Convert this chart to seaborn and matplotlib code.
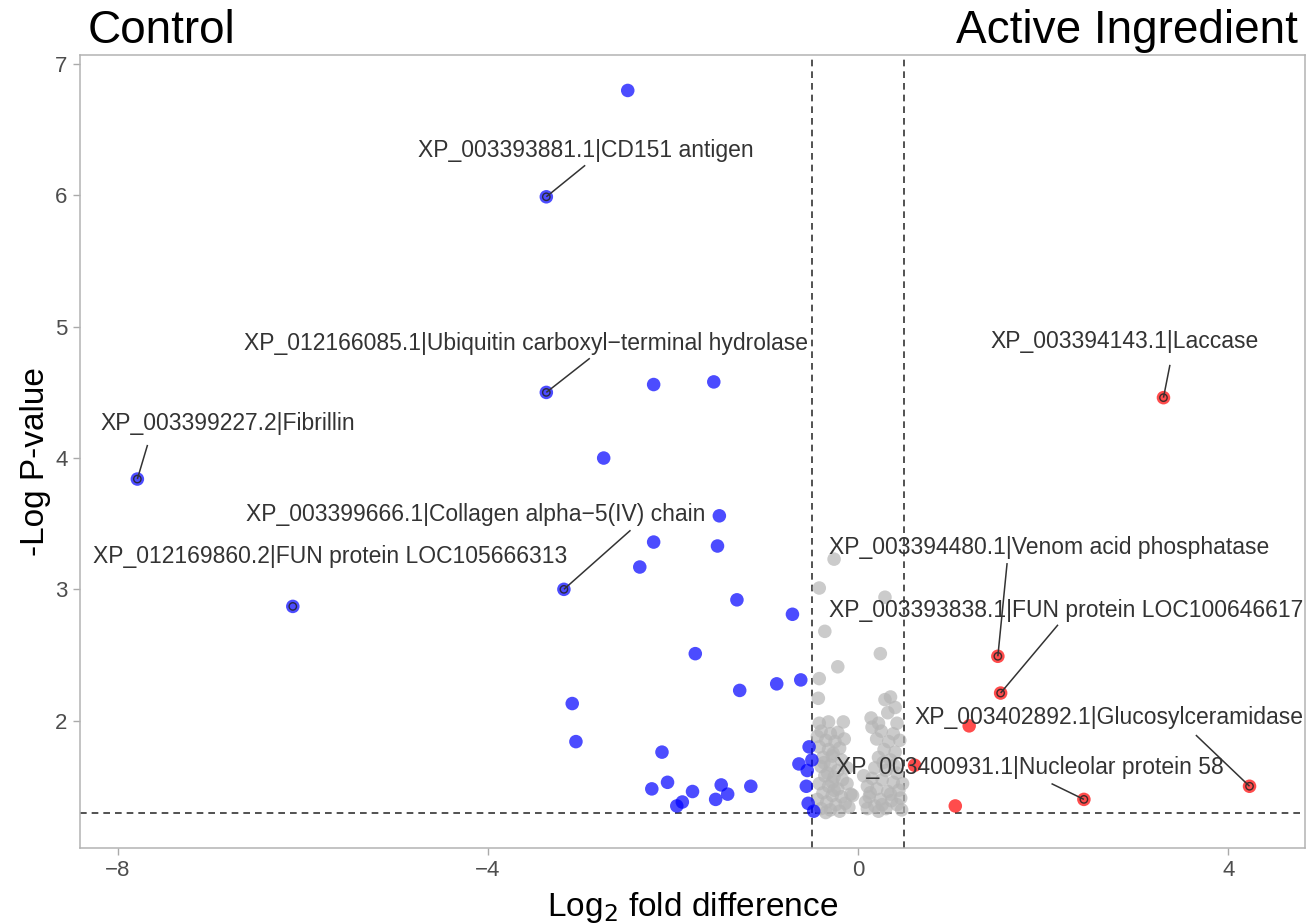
import matplotlib
matplotlib.use("Agg")
import matplotlib.pyplot as plt
import seaborn as sns
import pandas as pd

# ---- data ----
down_x = [-2.49, -3.37, -3.37, -2.21, -1.56, -7.79, -2.75, -1.50, -2.21, -1.52,
          -2.36, -3.18, -6.11, -1.31, -0.71, -1.76, -0.62, -0.88, -1.28, -3.09,
          -3.05, -2.12, -0.53, -0.50, -0.64, -0.55, -2.06, -2.23, -1.48, -1.16,
          -1.79, -1.41, -0.56, -1.54, -1.90, -1.96, -0.54, -0.48]
down_y = [6.80, 5.99, 4.50, 4.56, 4.58, 3.84, 4.00, 3.56, 3.36, 3.33,
          3.17, 3.00, 2.87, 2.92, 2.81, 2.51, 2.31, 2.28, 2.23, 2.13,
          1.84, 1.76, 1.80, 1.70, 1.67, 1.62, 1.53, 1.48, 1.51, 1.50,
          1.46, 1.44, 1.50, 1.40, 1.38, 1.35, 1.37, 1.31]

up_x = [3.30, 1.51, 1.54, 4.23, 2.44, 1.20, 0.61, 1.05]
up_y = [4.46, 2.49, 2.21, 1.50, 1.40, 1.96, 1.66, 1.35]

ns_x = [-0.26, -0.42, 0.29, -0.36, 0.24, -0.22, -0.42, 0.35, 0.29, -0.43,
        0.32, -0.32, -0.16, -0.42, 0.14, 0.22, 0.42, 0.40,
        -0.40, -0.30, -0.22, -0.35, -0.25, -0.15, -0.42, -0.32, -0.20, -0.38,
        -0.28, -0.18, -0.40, -0.30, -0.22, -0.12, -0.36, -0.26, -0.17, -0.42,
        -0.32, -0.22, -0.38, -0.28, -0.18, -0.08, -0.34, -0.24, -0.14, -0.40,
        -0.30, -0.20, -0.06, -0.33, -0.27,
        0.15, 0.25, 0.38, 0.20, 0.33, 0.45, 0.28, 0.40, 0.22, 0.35,
        0.18, 0.30, 0.42, 0.15, 0.26, 0.38, 0.20, 0.32, 0.44, 0.12,
        0.24, 0.36, 0.18, 0.30, 0.42, 0.22, 0.10, 0.48, 0.08, 0.27,
        -0.44, -0.37, -0.26, -0.12, -0.44, -0.35, -0.10, -0.28,
        0.10, 0.13, 0.35, 0.46, 0.26, 0.39, 0.06, 0.47]
ns_y = [3.23, 3.01, 2.94, 2.68, 2.51, 2.41, 2.32, 2.18, 2.16, 2.17,
        2.06, 1.99, 1.99, 1.98, 2.02, 1.98, 1.98, 2.10,
        1.92, 1.90, 1.91, 1.85, 1.84, 1.86, 1.80, 1.78, 1.79, 1.72,
        1.73, 1.70, 1.65, 1.66, 1.62, 1.64, 1.58, 1.57, 1.55, 1.52,
        1.50, 1.48, 1.45, 1.43, 1.42, 1.44, 1.38, 1.36, 1.37, 1.33,
        1.32, 1.31, 1.43, 1.60, 1.75,
        1.95, 1.92, 1.90, 1.86, 1.84, 1.85, 1.78, 1.76, 1.72, 1.70,
        1.64, 1.62, 1.60, 1.56, 1.55, 1.53, 1.48, 1.46, 1.47, 1.42,
        1.40, 1.39, 1.35, 1.33, 1.36, 1.31, 1.50, 1.52, 1.38, 1.68,
        1.88, 1.68, 1.47, 1.52, 1.40, 1.30, 1.34, 1.53,
        1.33, 1.45, 1.44, 1.41, 1.36, 1.66, 1.58, 1.32]

label_names = ["XP_003393881.1|CD151 antigen",
               "XP_012166085.1|Ubiquitin carboxyl\u2212terminal hydrolase",
               "XP_003399227.2|Fibrillin",
               "XP_003399666.1|Collagen alpha\u22125(IV) chain",
               "XP_012169860.2|FUN protein LOC105666313",
               "XP_003394143.1|Laccase",
               "XP_003394480.1|Venom acid phosphatase",
               "XP_003393838.1|FUN protein LOC100646617",
               "XP_003402892.1|Glucosylceramidase",
               "XP_003400931.1|Nucleolar protein 58"]
label_px = [-3.37, -3.37, -7.79, -3.18, -6.11, 3.30, 1.51, 1.54, 4.23, 2.44]
label_py = [5.99, 4.50, 3.84, 3.00, 2.87, 4.46, 2.49, 2.21, 1.50, 1.40]
# label text centres
label_tx = [-2.94, -3.59, -6.81, -4.13, -5.71, 2.88, 2.06, 2.25, 2.71, 1.86]
label_ty = [6.34, 4.87, 4.26, 3.57, 3.25, 4.89, 3.32, 2.84, 2.02, 1.64]
# connector segment ends near the labels (None = no segment)
seg_x = [-2.95, -2.90, -7.68, -2.46, None, 3.37, 1.61, 2.16, 3.65, 2.09]
seg_y = [6.23, 4.76, 4.10, 3.45, None, 4.71, 3.20, 2.73, 1.89, 1.52]

x_ticks = [-8, -4, 0, 4]
y_ticks = [2, 3, 4, 5, 6, 7]
fc_cut = 0.5
p_cut = 1.30

# ---- dataframe ----
df = pd.concat([
    pd.DataFrame({"lfc": ns_x, "logp": ns_y, "grp": "ns"}),
    pd.DataFrame({"lfc": down_x, "logp": down_y, "grp": "down"}),
    pd.DataFrame({"lfc": up_x, "logp": up_y, "grp": "up"}),
], ignore_index=True)

sns.set_style("white")
plt.rcParams["font.family"] = ["Liberation Sans", "DejaVu Sans"]

fig = plt.figure(figsize=(13.07, 9.23), dpi=100)
ax = fig.add_axes([0.0612, 0.0813, 0.9373, 0.8591])

sns.scatterplot(data=df, x="lfc", y="logp", hue="grp",
                palette={"ns": "#b5b5b5", "down": "#0000ff", "up": "#ff0000"},
                s=95, alpha=0.7, edgecolor="none", legend=False, ax=ax, zorder=3)

lab_df = pd.DataFrame({"x": label_px, "y": label_py})
sns.scatterplot(data=lab_df, x="x", y="y", marker="o", s=28,
                facecolor="none", edgecolor="#222222", linewidth=1.0,
                alpha=0.85, legend=False, ax=ax, zorder=4)

for name, px, py, tx, ty, sx, sy in zip(label_names, label_px, label_py,
                                        label_tx, label_ty, seg_x, seg_y):
    ax.text(tx, ty, name, ha="center", va="center", fontsize=16.5,
            color="#333333", zorder=5)
    if sx is not None:
        ax.plot([px, sx], [py, sy], color="#333333", lw=1.1, zorder=4,
                solid_capstyle="butt")

ax.axvline(-fc_cut, color="#333333", ls=(0, (4, 3)), lw=1.2, zorder=2)
ax.axvline(fc_cut, color="#333333", ls=(0, (4, 3)), lw=1.2, zorder=2)
ax.axhline(p_cut, color="#333333", ls=(0, (4, 3)), lw=1.2, zorder=2)

ax.set_xlim(-8.41, 4.83)
ax.set_ylim(1.03, 7.07)
ax.set_xticks(x_ticks)
ax.set_xticklabels(["\u22128", "\u22124", "0", "4"])
ax.set_yticks(y_ticks)
ax.tick_params(axis="both", which="both", direction="out", length=5, width=1,
               color="#aaaaaa", labelcolor="#4d4d4d", labelsize=16, pad=4)
ax.tick_params(bottom=True, left=True)
for sp in ax.spines.values():
    sp.set_visible(True)
    sp.set_color("#b3b3b3")
    sp.set_linewidth(1.1)

ax.set_xlabel("Log$_2$ fold difference", fontsize=24, color="black", labelpad=6)
ax.set_ylabel("-Log P-value", fontsize=24, color="black")
ax.yaxis.set_label_coords(-0.024, 0.487)

fig.text(0.0673, 0.966, "Control", fontsize=33, ha="left", va="center",
         color="black")
fig.text(0.993, 0.966, "Active Ingredient", fontsize=33, ha="right",
         va="center", color="black")

fig.savefig("out.png", dpi=100)
